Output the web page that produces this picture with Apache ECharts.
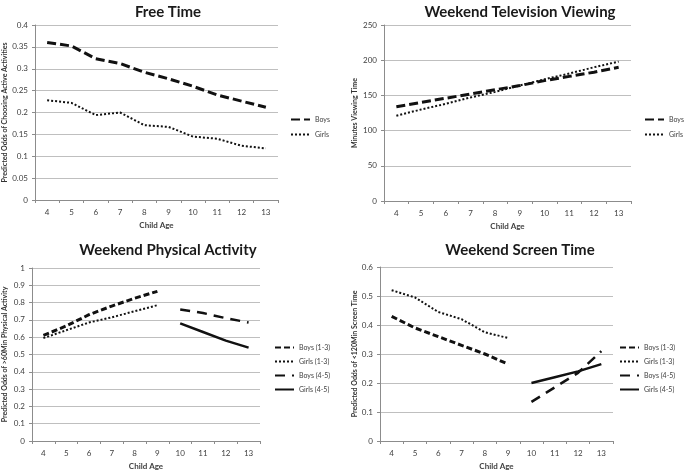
<!DOCTYPE html>
<html><head><meta charset="utf-8">
<script src="https://cdn.jsdelivr.net/npm/echarts@6/dist/echarts.min.js"></script>
<style>html,body{margin:0;padding:0;background:#fff}#c{width:685px;height:471px}</style>
</head><body><div id="c"></div>
<script>
const ages = ['4','5','6','7','8','9','10','11','12','13'];

const freeBoys  = [0.360,0.352,0.323,0.312,0.292,0.277,0.260,0.240,0.226,0.212];
const freeGirls = [0.228,0.222,0.194,0.200,0.171,0.167,0.145,0.140,0.124,0.118];

const tvBoys  = [134,140,146,152,158,164,171,177,183,190];
const tvGirls = [121,130,138,147,155,164,173,181,190,198];

const paBoys13  = [0.610,0.665,0.730,0.780,0.825,0.865,null,null,null,null];
const paGirls13 = [0.595,0.640,0.685,0.715,0.750,0.785,null,null,null,null];
const paBoys45  = [null,null,null,null,null,null,0.760,0.740,0.710,0.685];
const paGirls45 = [null,null,null,null,null,null,0.680,0.630,0.580,0.540];

const stBoys13  = [0.430,0.390,0.360,0.330,0.300,0.265,null,null,null,null];
const stGirls13 = [0.520,0.495,0.445,0.420,0.375,0.355,null,null,null,null];
const stBoys45  = [null,null,null,null,null,null,0.135,0.185,0.235,0.310];
const stGirls45 = [null,null,null,null,null,null,0.200,0.220,0.240,0.265];

const titles = ['Free Time','Weekend Television Viewing','Weekend Physical Activity','Weekend Screen Time'];
const yNames = ['Predicted Odds of Choosing Active Activities','Minutes Viewing Time','Predicted Odds of >60Min Physical Activity','Predicted Odds of <120Min Screen Time'];

const FONT = 'Lato, "Liberation Sans", sans-serif';
const grids = [
  {left:33, top:25, width:245, height:175},
  {left:384, top:25, width:247, height:176},
  {left:29, top:268, width:231, height:174},
  {left:380, top:267, width:233, height:175}
];
const yCfg = [
  {min:0,max:0.4,interval:0.05,gap:27},
  {min:0,max:250,interval:50,gap:26},
  {min:0,max:1,interval:0.1,gap:24},
  {min:0,max:0.6,interval:0.1,gap:22}
];
const titlePos = [[163,0],[515,0],[163,238],[515,238]];

const styles = {
  boysFree: {color:'#111', width:3, type:[9,4]},
  girlsDot: {color:'#111', width:2, type:[2,2]},
  boys13: {color:'#111', width:3, type:[6,3]},
  boys45: {color:'#111', width:2.5, type:[10,7]},
  girls45: {color:'#111', width:2.5, type:'solid'}
};

function ser(name, data, idx, st){
  return {name, type:'line', data, xAxisIndex:idx, yAxisIndex:idx, symbol:'none', smooth:false,
    connectNulls:false, lineStyle:Object.assign({}, st), itemStyle:{color:'#111'}, silent:true, animation:false};
}

const series = [
  ser('Boys', freeBoys, 0, styles.boysFree),
  ser('Girls', freeGirls, 0, styles.girlsDot),
  ser('Boys ', tvBoys, 1, styles.boysFree),
  ser('Girls ', tvGirls, 1, styles.girlsDot),
  ser('Boys (1-3)', paBoys13, 2, styles.boys13),
  ser('Girls (1-3)', paGirls13, 2, styles.girlsDot),
  ser('Boys (4-5)', paBoys45, 2, styles.boys45),
  ser('Girls (4-5)', paGirls45, 2, styles.girls45),
  ser('Boys (1-3) ', stBoys13, 3, styles.boys13),
  ser('Girls (1-3) ', stGirls13, 3, styles.girlsDot),
  ser('Boys (4-5) ', stBoys45, 3, styles.boys45),
  ser('Girls (4-5) ', stGirls45, 3, styles.girls45)
];

const legendBase = {orient:'vertical', itemWidth:19, itemHeight:8, itemGap:7, padding:0,
  itemStyle:{opacity:0, borderWidth:0},
  textStyle:{fontFamily:FONT, fontSize:7, color:'#404040'}, selectedMode:false,
  formatter: n => n.trim()};
const legends = [
  Object.assign({}, legendBase, {left:290, top:116, itemGap:8, data:['Boys','Girls']}),
  Object.assign({}, legendBase, {left:644, top:116, itemGap:8, data:['Boys ','Girls ']}),
  Object.assign({}, legendBase, {left:274, top:344, data:['Boys (1-3)','Girls (1-3)','Boys (4-5)','Girls (4-5)']}),
  Object.assign({}, legendBase, {left:619, top:344, data:['Boys (1-3) ','Girls (1-3) ','Boys (4-5) ','Girls (4-5) ']})
];

const option = {
  backgroundColor:'#ffffff',
  animation:false,
  title: titles.map((t,i)=>({text:t, left:titlePos[i][0], top:titlePos[i][1], textAlign:'center',
    textStyle:{fontFamily:FONT, fontSize:15, fontWeight:'bold', color:'#1a1a1a'}})),
  legend: legends,
  grid: grids.map(g=>Object.assign({containLabel:false}, g)),
  xAxis: grids.map((g,i)=>({type:'category', gridIndex:i, data:ages, boundaryGap:true,
    name:'Child Age', nameLocation:'middle', nameGap:21,
    nameTextStyle:{fontFamily:FONT, fontSize:8, fontWeight:'bold', color:'#404040'},
    axisLine:{lineStyle:{color:'#8c8c8c'}}, axisTick:{show:true, alignWithLabel:false, length:3, lineStyle:{color:'#8c8c8c'}},
    axisLabel:{fontFamily:FONT, fontSize:8, color:'#404040', margin:8}})),
  yAxis: yCfg.map((c,i)=>({type:'value', gridIndex:i, min:c.min, max:c.max, interval:c.interval,
    name:yNames[i], nameLocation:'middle', nameGap:c.gap, nameRotate:90,
    nameTextStyle:{fontFamily:FONT, fontSize:7, fontWeight:'bold', color:'#333'},
    axisLine:{show:true, lineStyle:{color:'#8c8c8c'}}, axisTick:{show:true, length:3, lineStyle:{color:'#8c8c8c'}},
    splitLine:{show:true, lineStyle:{color:'#bfbfbf', width:1}},
    axisLabel:{fontFamily:FONT, fontSize:8, color:'#404040', margin:7}})),
  series
};
const chart = echarts.init(document.getElementById('c'), null, {renderer:'canvas'});
chart.setOption(option);
</script></body></html>
